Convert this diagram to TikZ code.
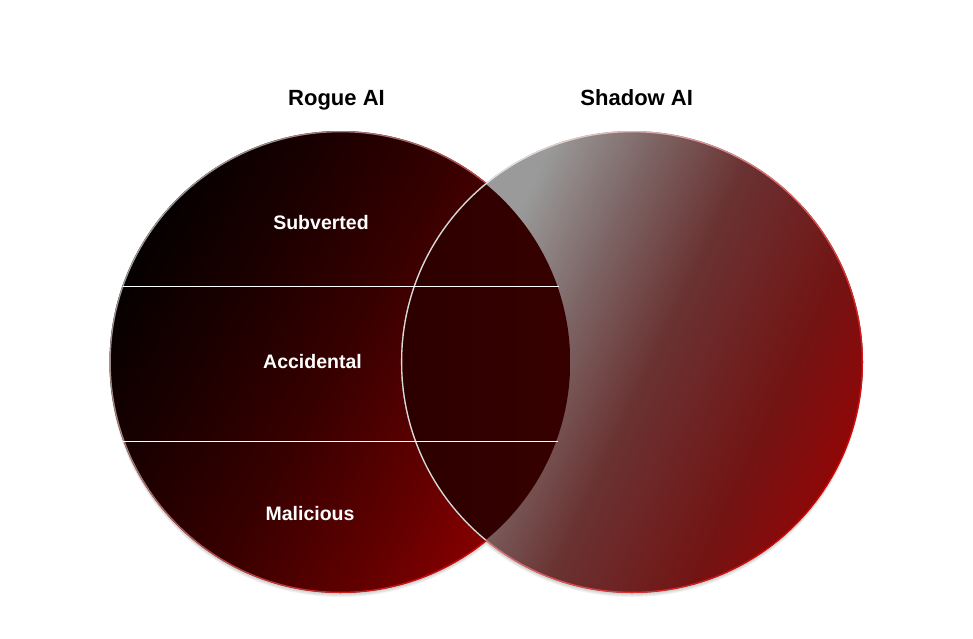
\documentclass[tikz,border=0pt]{standalone}
\usepackage{fontspec}
\setmainfont{Liberation Sans}
\usetikzlibrary{calc}
\definecolor{rogueRed}{HTML}{A00000}
\definecolor{shadowGray}{HTML}{9A9A9A}
\definecolor{edgeRed}{HTML}{D40000}
\definecolor{lapLeft}{HTML}{2C0000}
\definecolor{lapRight}{HTML}{4A0000}
\pgfdeclarehorizontalshading{rogueShade}{100bp}{color(0bp)=(black); color(22bp)=(black); color(38bp)=(rgb,255:red,30;green,0;blue,0); color(50bp)=(rgb,255:red,56;green,0;blue,0); color(64bp)=(rgb,255:red,98;green,0;blue,0); color(80bp)=(rogueRed); color(100bp)=(rogueRed)}
\pgfdeclarehorizontalshading{shadowShade}{100bp}{color(0bp)=(shadowGray); color(32bp)=(shadowGray); color(42bp)=(rgb,255:red,125;green,100;blue,100); color(52bp)=(rgb,255:red,106;green,50;blue,50); color(66bp)=(rgb,255:red,115;green,20;blue,20); color(80bp)=(rogueRed); color(100bp)=(rogueRed)}
\begin{document}
\begin{tikzpicture}[x=1pt,y=-1pt]
   \def\rr{231}
   \useasboundingbox (0,0) rectangle (973,638);
   \coordinate (rogue) at (340.5,362);
   \coordinate (shadow) at (632,362);
   % soft shadow under the circles
   \foreach \d in {1,2,3,4}
     \fill[black,opacity=0.05] ($(rogue)+(0,\d)$) circle(\rr) ($(shadow)+(0,\d)$) circle(\rr);
   % the two circles
   \shade[shading=rogueShade,shading angle=-30] (rogue) circle(\rr);
   \shade[even odd rule,top color=shadowGray,bottom color=edgeRed,shading angle=55] (rogue) circle(\rr) (rogue) circle(\rr-1.3);
   \shade[shading=shadowShade,shading angle=-25] (shadow) circle(\rr);
   \shade[even odd rule,top color=white!80!gray,bottom color=edgeRed,shading angle=55] (shadow) circle(\rr) (shadow) circle(\rr-1.3);
   % overlap
   \begin{scope}
     \clip (rogue) circle(\rr-1.3);
     \shade[left color=lapLeft,right color=lapRight] (shadow) circle(\rr);
     \draw[white!70!gray,line width=1.3pt] (shadow) circle(\rr-0.6);
   \end{scope}
   % layers of the left circle
   \coordinate (a1) at (122.5,286);
   \coordinate (a2) at (558.6,286);
   \coordinate (b1) at (123.1,441);
   \coordinate (b2) at (557.9,441);
   \draw[white,line width=0.8pt] (a1) -- (a2);
   \draw[white,line width=0.8pt] (b1) -- (b2);
   \node[anchor=base,font=\fontsize{22}{26}\selectfont\bfseries] (rogueTitle) at (336.5,105) {Rogue AI};
   \node[anchor=base,font=\fontsize{22}{26}\selectfont\bfseries] (shadowTitle) at (636.7,105) {Shadow AI};
   \node[anchor=base,white,font=\fontsize{19.5}{23}\selectfont\bfseries] (subverted) at (321,229.3) {Subverted};
   \node[anchor=base,white,font=\fontsize{19.5}{23}\selectfont\bfseries] (accidental) at (312.5,368.3) {Accidental};
   \node[anchor=base,white,font=\fontsize{19.5}{23}\selectfont\bfseries] (malicious) at (310,520) {Malicious};
\end{tikzpicture}
\end{document}
